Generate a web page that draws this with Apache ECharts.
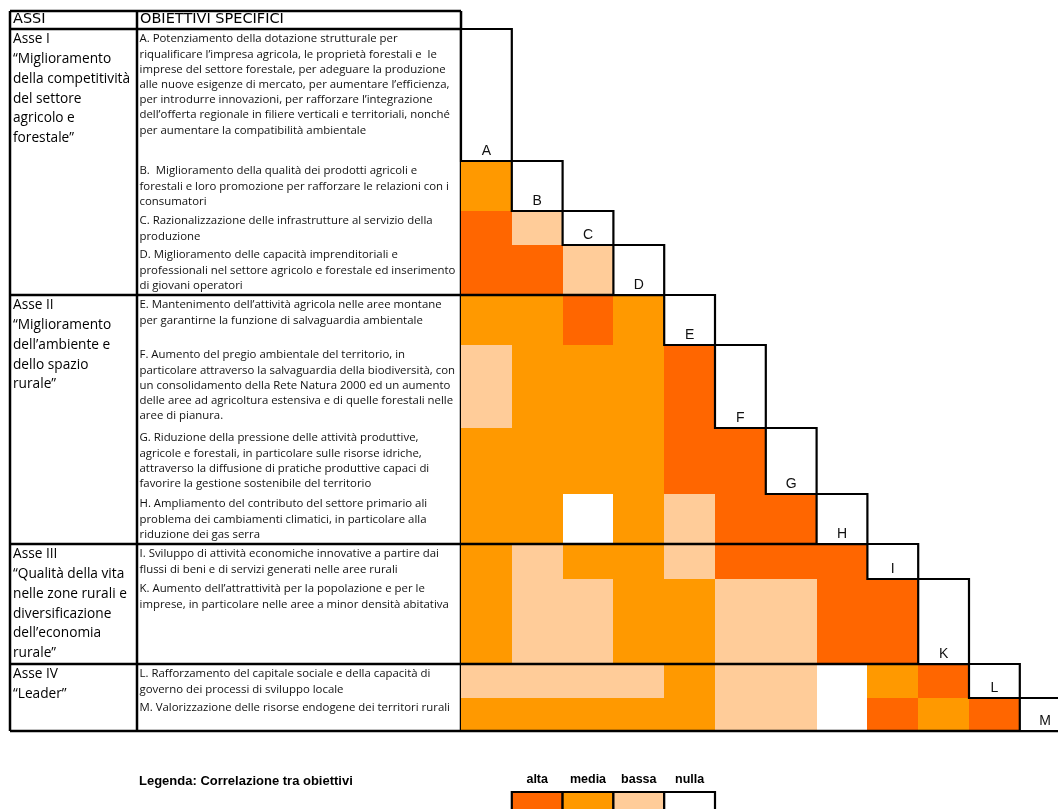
<!DOCTYPE html>
<html>
<head>
<meta charset="utf-8">
<title>Correlazione tra obiettivi</title>
<script src="https://cdn.jsdelivr.net/npm/echarts@6.0.0/dist/echarts.min.js"></script>
<style>
html, body { margin: 0; padding: 0; background: #fff; }
#main { width: 1058px; height: 809px; }
</style>
</head>
<body>
<div id="main"></div>
<script>
// obiettivi specifici (colonne/righe della matrice)
var obiettivi = ['A', 'B', 'C', 'D', 'E', 'F', 'G', 'H', 'I', 'K', 'L', 'M'];
var livelli = ['alta', 'media', 'bassa', 'nulla'];
var coloriLivelli = ['#FF6600', '#FF9900', '#FFCC99', '#FFFFFF'];

// correlazione di ogni obiettivo con quelli precedenti
var corrB = ['media'];
var corrC = ['alta', 'bassa'];
var corrD = ['alta', 'alta', 'bassa'];
var corrE = ['media', 'media', 'alta', 'media'];
var corrF = ['bassa', 'media', 'media', 'media', 'alta'];
var corrG = ['media', 'media', 'media', 'media', 'alta', 'alta'];
var corrH = ['media', 'media', 'nulla', 'media', 'bassa', 'alta', 'alta'];
var corrI = ['media', 'bassa', 'media', 'media', 'bassa', 'alta', 'alta', 'alta'];
var corrK = ['media', 'bassa', 'bassa', 'media', 'media', 'bassa', 'bassa', 'alta', 'alta'];
var corrL = ['bassa', 'bassa', 'bassa', 'bassa', 'media', 'bassa', 'bassa', 'nulla', 'media', 'alta'];
var corrM = ['media', 'media', 'media', 'media', 'media', 'bassa', 'bassa', 'nulla', 'alta', 'media', 'alta'];
var righeCorr = [[], corrB, corrC, corrD, corrE, corrF, corrG, corrH, corrI, corrK, corrL, corrM];

var intestazioni = ['ASSI', 'OBIETTIVI SPECIFICI'];
var assi = [
    'Asse I\n“Miglioramento\ndella competitività\ndel settore\nagricolo e\nforestale”',
    'Asse II\n“Miglioramento\ndell’ambiente e\ndello spazio\nrurale”',
    'Asse III\n“Qualità della vita\nnelle zone rurali e\ndiversificazione\ndell’economia\nrurale”',
    'Asse IV\n“Leader”'
];
var primoObiettivoAsse = [0, 4, 8, 10];

var testiObiettivi = [
    'A. Potenziamento della dotazione strutturale per\nriqualificare l’impresa agricola, le proprietà forestali e  le\nimprese del settore forestale, per adeguare la produzione\nalle nuove esigenze di mercato, per aumentare l’efficienza,\nper introdurre innovazioni, per rafforzare l’integrazione\ndell’offerta regionale in filiere verticali e territoriali, nonché\nper aumentare la compatibilità ambientale',
    'B.  Miglioramento della qualità dei prodotti agricoli e\nforestali e loro promozione per rafforzare le relazioni con i\nconsumatori',
    'C. Razionalizzazione delle infrastrutture al servizio della\nproduzione',
    'D. Miglioramento delle capacità imprenditoriali e\nprofessionali nel settore agricolo e forestale ed inserimento\ndi giovani operatori',
    'E. Mantenimento dell’attività agricola nelle aree montane\nper garantirne la funzione di salvaguardia ambientale',
    'F. Aumento del pregio ambientale del territorio, in\nparticolare attraverso la salvaguardia della biodiversità, con\nun consolidamento della Rete Natura 2000 ed un aumento\ndelle aree ad agricoltura estensiva e di quelle forestali nelle\naree di pianura.',
    'G. Riduzione della pressione delle attività produttive,\nagricole e forestali, in particolare sulle risorse idriche,\nattraverso la diffusione di pratiche produttive capaci di\nfavorire la gestione sostenibile del territorio',
    'H. Ampliamento del contributo del settore primario ali\nproblema dei cambiamenti climatici, in particolare alla\nriduzione dei gas serra',
    'I. Sviluppo di attività economiche innovative a partire dai\nflussi di beni e di servizi generati nelle aree rurali',
    'K. Aumento dell’attrattività per la popolazione e per le\nimprese, in particolare nelle aree a minor densità abitativa',
    'L. Rafforzamento del capitale sociale e della capacità di\ngoverno dei processi di sviluppo locale',
    'M. Valorizzazione delle risorse endogene dei territori rurali'
];

// impaginazione (unità delle griglie)
var colAssi = 127, tabW = 451, totH = 720, testaH = 18;
var bordiRighe = [18, 150, 200, 234, 284, 334, 417, 483, 533, 568, 653, 687, 720];
var fineAssi = [4, 8, 10, 12];
var larghCol = 50.8, larghMat = 1058 - 461; // la colonna M esce dal riquadro

// dati derivati
var celle = [];
righeCorr.forEach(function (riga, r) {
    riga.forEach(function (liv, c) { celle.push([c, r, livelli.indexOf(liv)]); });
});
var diagonale = obiettivi.map(function (o, i) { return [i, i]; });
var lineeTab = [[0, 0, tabW, 0], [0, testaH, tabW, testaH], [0, 0, 0, totH], [colAssi, 0, colAssi, totH], [tabW, 0, tabW, totH]];
var lineeMat = [];
fineAssi.forEach(function (k) {
    lineeTab.push([0, bordiRighe[k], tabW, bordiRighe[k]]);
    lineeMat.push([0, bordiRighe[k], k, bordiRighe[k]]);
});

function segmento(api, w) {
    var p0 = api.coord([api.value(0), api.value(1)]);
    var p1 = api.coord([api.value(2), api.value(3)]);
    return { type: 'line', shape: { x1: p0[0], y1: p0[1], x2: p1[0], y2: p1[1] },
             style: { stroke: '#000', lineWidth: w } };
}

var myChart = echarts.init(document.getElementById('main'));
var option = {
    backgroundColor: '#fff',
    animation: false,
    title: {
        text: 'Legenda: Correlazione tra obiettivi',
        left: 134, top: 770,
        textStyle: { fontFamily: 'Liberation Sans', fontSize: 13, fontWeight: 'bold', color: '#000' }
    },
    grid: [
        { left: 10, top: 11, width: tabW, height: totH },
        { left: 461, top: 11, width: larghMat, height: totH }
    ],
    xAxis: [
        { gridIndex: 0, type: 'value', min: 0, max: tabW, show: false },
        { gridIndex: 1, type: 'value', min: 0, max: larghMat / larghCol, show: false }
    ],
    yAxis: [
        { gridIndex: 0, type: 'value', min: 0, max: totH, inverse: true, show: false },
        { gridIndex: 1, type: 'value', min: 0, max: totH, inverse: true, show: false }
    ],
    series: [
        { // intestazioni
            type: 'custom', xAxisIndex: 0, yAxisIndex: 0, clip: false,
            data: [[0, 0], [colAssi, 1]],
            renderItem: function (params, api) {
                var p = api.coord([api.value(0) + 3, 8.7]);
                return { type: 'text', style: { text: intestazioni[api.value(1)], x: p[0], y: p[1],
                    verticalAlign: 'middle', fontFamily: 'DejaVu Sans', fontSize: 14.5, fill: '#000' } };
            }
        },
        { // assi
            type: 'custom', xAxisIndex: 0, yAxisIndex: 0, clip: false,
            data: assi.map(function (a, i) { return [3, i]; }),
            renderItem: function (params, api) {
                var i = api.value(1);
                var p = api.coord([3, bordiRighe[primoObiettivoAsse[i]] + 0.7]);
                return { type: 'text', style: { text: assi[i], x: p[0], y: p[1], verticalAlign: 'top',
                    fontFamily: 'Open Sans', fontSize: 13.7, lineHeight: 19.7, fill: '#000' } };
            }
        },
        { // obiettivi
            type: 'custom', xAxisIndex: 0, yAxisIndex: 0, clip: false,
            data: testiObiettivi.map(function (t, i) { return [colAssi, i]; }),
            renderItem: function (params, api) {
                var r = api.value(1);
                var p = api.coord([colAssi + 2.5, bordiRighe[r] + 2.5]);
                return { type: 'text', style: { text: testiObiettivi[r], x: p[0], y: p[1], verticalAlign: 'top',
                    fontFamily: 'Open Sans', fontSize: 11.4, lineHeight: 15.2, fill: '#111' } };
            }
        },
        { // bordi tabella
            type: 'custom', xAxisIndex: 0, yAxisIndex: 0, clip: false,
            data: lineeTab,
            renderItem: function (params, api) { return segmento(api, 2.5); }
        },
        { // celle di correlazione
            type: 'custom', xAxisIndex: 1, yAxisIndex: 1, clip: false,
            data: celle,
            renderItem: function (params, api) {
                var c = api.value(0), r = api.value(1);
                var p0 = api.coord([c, bordiRighe[r]]);
                var p1 = api.coord([c + 1, bordiRighe[r + 1]]);
                var x = Math.round(p0[0]), y = Math.round(p0[1]);
                return { type: 'rect', shape: { x: x, y: y, width: Math.round(p1[0]) - x, height: Math.round(p1[1]) - y },
                         style: { fill: coloriLivelli[api.value(2)] } };
            }
        },
        { // separatori assi nella matrice
            type: 'custom', xAxisIndex: 1, yAxisIndex: 1, clip: false,
            data: lineeMat,
            renderItem: function (params, api) { return segmento(api, 2.5); }
        },
        { // caselle diagonali
            type: 'custom', xAxisIndex: 1, yAxisIndex: 1, clip: false,
            data: diagonale,
            renderItem: function (params, api) {
                var i = api.value(0);
                var p0 = api.coord([i, bordiRighe[i]]);
                var p1 = api.coord([i + 1, bordiRighe[i + 1]]);
                return { type: 'group', children: [
                    { type: 'rect', shape: { x: p0[0], y: p0[1], width: p1[0] - p0[0], height: p1[1] - p0[1] },
                      style: { fill: '#fff', stroke: '#000', lineWidth: 2.2 } },
                    { type: 'text', style: { text: obiettivi[i], x: (p0[0] + p1[0]) / 2, y: p1[1] - 3,
                      align: 'center', verticalAlign: 'bottom', fontFamily: 'Liberation Sans', fontSize: 14, fill: '#111' } }
                ] };
            }
        },
        { // legenda
            type: 'custom', xAxisIndex: 1, yAxisIndex: 1, clip: false,
            data: livelli.map(function (l, i) { return [i + 1, i]; }),
            renderItem: function (params, api) {
                var c = api.value(0), i = api.value(1);
                var p0 = api.coord([c, 781]);
                var p1 = api.coord([c + 1, 810]);
                var pt = api.coord([c + 0.5, 769]);
                return { type: 'group', children: [
                    { type: 'rect', shape: { x: p0[0], y: p0[1], width: p1[0] - p0[0], height: p1[1] - p0[1] },
                      style: { fill: coloriLivelli[i], stroke: '#000', lineWidth: 2.2 } },
                    { type: 'text', style: { text: livelli[i], x: pt[0], y: pt[1], align: 'center', verticalAlign: 'middle',
                      fontFamily: 'Liberation Sans', fontSize: 12.5, fontWeight: 'bold', fill: '#000' } }
                ] };
            }
        }
    ]
};
myChart.setOption(option);
</script>
</body>
</html>
